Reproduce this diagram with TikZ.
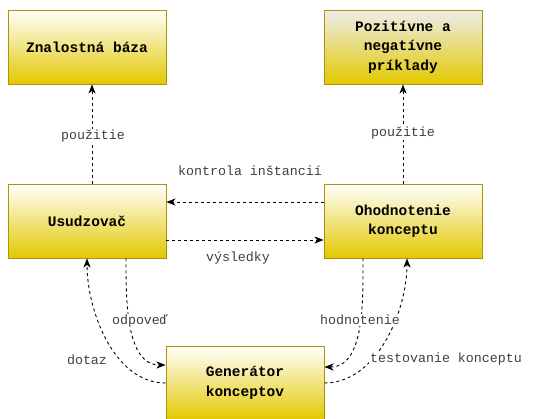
\documentclass[tikz,border=0pt]{standalone}
\usepackage{fontspec}
\usepackage{xcolor}
\usepackage{tikz}
\usetikzlibrary{arrows.meta,positioning}

\newfontfamily\monofont{Liberation Mono}
\definecolor{boxgold}{HTML}{E3C800}
\definecolor{boxline}{HTML}{B09500}

\begin{document}
\begin{tikzpicture}[
  x=1pt,y=-1pt,
  >={Stealth[length=9pt,width=7pt,inset=2.5pt]},
  box/.style={draw=boxline,line width=0.9pt,top color=white,bottom color=boxgold,
              minimum width=158pt,minimum height=74pt,align=center,
              font=\monofont\bfseries\fontsize{14.5}{19.5}\selectfont},
  lbl/.style={fill=white,inner sep=1pt,text=black!75,
              font=\monofont\fontsize{13.3}{16}\selectfont},
  conn/.style={->,line width=0.9pt,dash pattern=on 3pt off 3pt}
]
\useasboundingbox (0,0) rectangle (535,418);

% ---- boxes ----
\node[box] (kb)       at (87,47)   {Znalostná báza};
\node[box,top color=black!7!white] (examples) at (403,47) {Pozitívne a\\negatívne\\príklady};
\node[box] (reasoner) at (87,221)  {Usudzovač};
\node[box] (eval)     at (403,221) {Ohodnotenie\\konceptu};
\node[box] (gen)      at (245,383) {Generátor\\konceptov};

% ---- straight connectors ----
\draw[conn] ([xshift=5pt]reasoner.north) -- ([xshift=5pt]kb.south);
\draw[conn] (eval.north) -- (examples.south);
\draw[conn] ([yshift=19pt]eval.west) -- ([yshift=19pt]reasoner.east);
\draw[conn] ([yshift=-19pt]reasoner.east) -- ([yshift=-19pt]eval.west);

% ---- curved connectors ----
\draw[conn] ([xshift=39pt]reasoner.south) to[out=-90,in=180,looseness=0.9] ([yshift=18pt]gen.west);
\draw[conn] (gen.west) to[out=180,in=-90,looseness=0.9] (reasoner.south);
\draw[conn] ([xshift=-40pt]eval.south) to[out=-90,in=0,looseness=0.9] ([yshift=16pt]gen.east);
\draw[conn] (gen.east) to[out=0,in=-90,looseness=0.9] ([xshift=4pt]eval.south);

% ---- labels ----
\node[lbl] (l1) at (93,136)  {použitie};
\node[lbl] (l2) at (403,133) {použitie};
\node[lbl] (l3) at (250,171) {kontrola inštancií};
\node[lbl] (l4) at (238,258) {výsledky};
\node[lbl] (l5) at (140,321) {odpoveď};
\node[lbl] (l6) at (87,360)  {dotaz};
\node[lbl] (l7) at (360,320) {hodnotenie};
\node[lbl] (l8) at (446,359) {testovanie konceptu};

\end{tikzpicture}
\end{document}
